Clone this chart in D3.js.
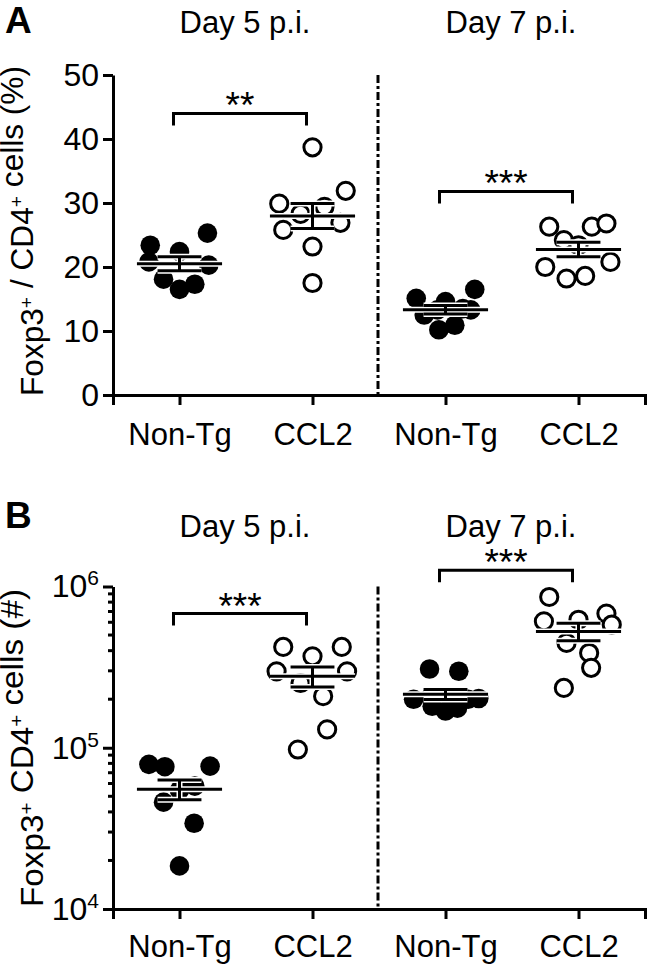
<!DOCTYPE html>
<html><head><meta charset="utf-8">
<script src="https://cdn.jsdelivr.net/npm/d3@7"></script>
<style>
html,body{margin:0;padding:0;background:#fff;}
text{font-family:"Liberation Sans",Arial,sans-serif;fill:#000;}
</style></head>
<body>
<svg id="chart" width="650" height="969"></svg>
<script>
// ---------- DATA ----------
const groupKeys = ["d5n","d5c","d7n","d7c"];
const groupLabels = ["Non-Tg","CCL2","Non-Tg","CCL2"];
const dayLabels = ["Day 5 p.i.","Day 7 p.i."];
const filledGroups = ["d5n","d7n"];

// Panel A: Foxp3+ / CD4+ cells (%)
const pctD5NonTg = [23.4,25.3,22.4,20.8,20.3,18.1,16.5,17.3];
const pctD5CCL2  = [38.7,31.9,29.9,29.4,28.3,26.9,25.8,23.2,17.5];
const pctD7NonTg = [15.1,16.5,14.6,13.5,13.3,12.5,13.3,10.2,10.9];
const pctD7CCL2  = [26.3,26.3,26.8,24.2,23.4,20.8,20.0,18.2,18.6];
// horizontal scatter (fraction of category step)
const jitD5NonTgA = [-0.22,0.21,0,-0.23,0.22,-0.12,0,0.115];
const jitD5CCL2A  = [0,0.25,-0.25,0.09,-0.09,0.21,-0.22,0,0];
const jitD7NonTgA = [-0.22,0.22,0,0.13,0.19,-0.16,-0.06,-0.05,0.07];
const jitD7CCL2A  = [-0.22,0.10,0.21,-0.11,0,0.24,-0.25,-0.09,0.05];
const pctTicks = [0,10,20,30,40,50];
const sigA = [{from:"d5n",to:"d5c",y:44,label:"**"},{from:"d7n",to:"d7c",y:31.8,label:"***"}];

// Panel B: Foxp3+ CD4+ cells (#)
const numD5NonTg = [78900,76300,76900,57800,54600,46000,34000,18500];
const numD5CCL2  = [422000,422000,369000,298000,298000,252000,209000,130000,97500];
const numD7NonTg = [308000,298000,200000,207000,207000,200000,202000,181000,176000,169000];
const numD7CCL2  = [861000,608000,622000,679000,580000,447000,387000,313000,235000];
const jitD5NonTgB = [-0.23,-0.11,0.23,0.115,0,-0.12,0.11,0];
const jitD5CCL2B  = [-0.22,0.22,0,-0.27,0.26,-0.09,0.08,0.11,-0.11];
const jitD7NonTgB = [-0.12,0.10,-0.24,-0.11,0.03,0.17,0.25,-0.10,0.09,0];
const jitD7CCL2B  = [-0.22,-0.26,0,0.21,0.25,-0.09,0.08,0.095,-0.11];
const numTicks = [1e4,1e5,1e6];
const sigB = [{from:"d5n",to:"d5c",y:680000,label:"***"},{from:"d7n",to:"d7c",y:1260000,label:"***"}];

// ---------- DRAW ----------
const svg = d3.select("#chart");
const FS = 31;

function meanSem(v){
  const m = d3.mean(v), sd = d3.deviation(v);
  return {m, s: sd/Math.sqrt(v.length)};
}

function drawPanel(opt){
  const g = svg.append("g");
  const x = d3.scalePoint().domain(groupKeys).range([113,645]).padding(0.5);
  const step = x.step();
  const y = opt.y;
  const [yb, yt] = y.range();

  // panel letter
  g.append("text").attr("x",5).attr("y",opt.letterY).attr("font-size",37).attr("font-weight","bold").text(opt.letter);
  // day titles
  [["d5n","d5c"],["d7n","d7c"]].forEach((p,i)=>{
    g.append("text").attr("x",(x(p[0])+x(p[1]))/2 - 1).attr("y",opt.titleY)
      .attr("text-anchor","middle").attr("font-size",FS).text(dayLabels[i]);
  });

  // divider
  const xd = (x("d5c")+x("d7n"))/2 - 1;
  g.append("line").attr("x1",xd).attr("x2",xd).attr("y1",yt).attr("y2",yb)
    .attr("stroke","#000").attr("stroke-width",3).attr("stroke-dasharray","8,3,3,3");

  // axes
  const ya = g.append("g").attr("transform","translate(113,0)").call(opt.yAxis);
  ya.select(".domain").attr("stroke-width",3);
  ya.selectAll(".tick line").attr("stroke-width",3);
  ya.selectAll(".tick text").attr("font-size",32).attr("font-family",null);

  const xa = g.append("g").attr("transform",`translate(0,${yb})`)
    .call(d3.axisBottom(x).tickSizeOuter(0).tickSize(10).tickPadding(opt.xPad).tickFormat((d,i)=>groupLabels[i]));
  xa.select(".domain").attr("stroke-width",3);
  xa.selectAll(".tick line").attr("stroke-width",3);
  xa.selectAll(".tick text").attr("font-size",FS).attr("font-family",null);

  // y label
  const yl = g.append("text").attr("transform",`translate(43,${opt.ylabelY}) rotate(-90)`)
    .attr("text-anchor","middle").attr("font-size",FS)
    .attr("textLength",opt.ylabelLen).attr("lengthAdjust","spacingAndGlyphs");
  opt.ylabel.forEach(part=>{
    if(part.sup){
      yl.append("tspan").attr("font-size",19).attr("dy",-10).text(part.t);
      yl.append("tspan").attr("dy",10).text("");
    } else yl.append("tspan").text(part.t);
  });

  // points
  opt.series.forEach(s=>{
    const filled = filledGroups.includes(s.key);
    const cx = x(s.key);
    const pts = s.values.map((v,i)=>({v, j:s.jit[i]}));
    g.append("g").selectAll("circle").data(pts).join("circle")
      .attr("cx",d=>cx + d.j*step).attr("cy",d=>y(d.v))
      .attr("r",filled?9.8:8.6)
      .attr("fill",filled?"#000":"#fff")
      .attr("stroke","#000").attr("stroke-width",filled?0:3);
    // mean +- SEM
    const {m,s:se} = meanSem(s.values);
    const mw = 0.32*step, cw = 0.165*step;
    const segs = [
      [cx-mw,y(m),cx+mw,y(m)],
      [cx,y(m+se),cx,y(m-se)],
      [cx-cw,y(m+se),cx+cw,y(m+se)],
      [cx-cw,y(m-se),cx+cw,y(m-se)]
    ];
    const eg = g.append("g");
    eg.selectAll("line.h").data(segs).join("line").attr("class","h")
      .attr("x1",d=>d[0]).attr("y1",d=>d[1]).attr("x2",d=>d[2]).attr("y2",d=>d[3])
      .attr("stroke","#fff").attr("stroke-width",6);
    eg.selectAll("line.b").data(segs).join("line").attr("class","b")
      .attr("x1",d=>d[0]).attr("y1",d=>d[1]).attr("x2",d=>d[2]).attr("y2",d=>d[3])
      .attr("stroke","#000").attr("stroke-width",3);
  });

  // significance brackets
  opt.sig.forEach(b=>{
    const by = y(b.y);
    g.append("path").attr("d",`M${x(b.from)-6},${by+12}V${by}H${x(b.to)-6}V${by+12}`)
      .attr("fill","none").attr("stroke","#000").attr("stroke-width",3);
    g.append("text").attr("x",(x(b.from)+x(b.to))/2-6).attr("y",by+5)
      .attr("text-anchor","middle").attr("font-size",37).text(b.label);
  });
}

// Panel A
const yA = d3.scaleLinear().domain([0,50]).range([395,75]);
drawPanel({
  letter:"A", letterY:33, titleY:33, ylabelY:231, ylabelLen:330, xPad:18,
  y:yA,
  yAxis: d3.axisLeft(yA).tickValues(pctTicks).tickSize(10).tickSizeOuter(0).tickPadding(4),
  ylabel:[{t:"Foxp3"},{t:"+",sup:true},{t:" / CD4"},{t:"+",sup:true},{t:" cells (%)"}],
  series:[
    {key:"d5n",values:pctD5NonTg,jit:jitD5NonTgA},
    {key:"d5c",values:pctD5CCL2,jit:jitD5CCL2A},
    {key:"d7n",values:pctD7NonTg,jit:jitD7NonTgA},
    {key:"d7c",values:pctD7CCL2,jit:jitD7CCL2A}
  ],
  sig:sigA
});

// Panel B
const yB = d3.scaleLog().domain([1e4,1e6]).range([909,586.5]);
function logAxis(sel){
  sel.call(d3.axisLeft(yB).tickValues(numTicks).tickSize(10).tickSizeOuter(0).tickPadding(4).tickFormat(""));
  sel.selectAll(".tick").each(function(d){
    const t = d3.select(this).select("text");
    t.text("10");
    t.append("tspan").attr("font-size",21).attr("dy",-12).text(Math.round(Math.log10(d)));
  });
  // minor ticks
  const minors = [];
  for(let e=4;e<6;e++) for(let k=2;k<=9;k++) minors.push(k*Math.pow(10,e));
  sel.selectAll("line.minor").data(minors).join("line").attr("class","minor")
    .attr("x1",-5).attr("x2",0).attr("y1",d=>yB(d)).attr("y2",d=>yB(d))
    .attr("stroke","#000").attr("stroke-width",3);
}
drawPanel({
  letter:"B", letterY:528, titleY:537, ylabelY:748, ylabelLen:318, xPad:16,
  y:yB,
  yAxis: logAxis,
  ylabel:[{t:"Foxp3"},{t:"+",sup:true},{t:" CD4"},{t:"+",sup:true},{t:" cells (#)"}],
  series:[
    {key:"d5n",values:numD5NonTg,jit:jitD5NonTgB},
    {key:"d5c",values:numD5CCL2,jit:jitD5CCL2B},
    {key:"d7n",values:numD7NonTg,jit:jitD7NonTgB},
    {key:"d7c",values:numD7CCL2,jit:jitD7CCL2B}
  ],
  sig:sigB
});
</script>
</body></html>
